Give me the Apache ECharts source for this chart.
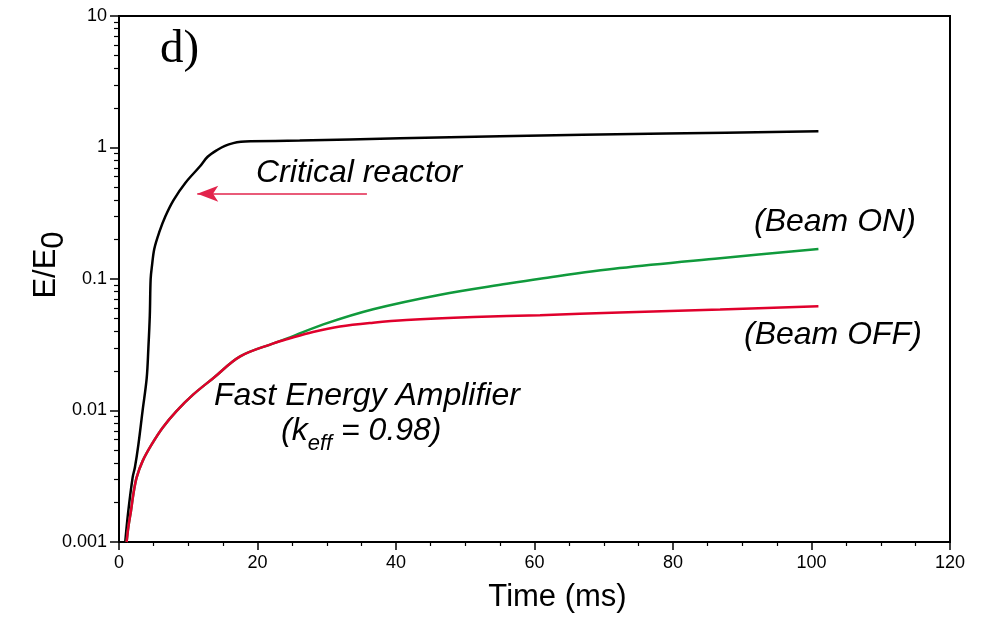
<!DOCTYPE html>
<html>
<head>
<meta charset="utf-8">
<script src="https://cdn.jsdelivr.net/npm/echarts@6/dist/echarts.min.js"></script>
<style>
  html, body { margin: 0; padding: 0; background: #fff; }
  #chart { width: 989px; height: 618px; }
</style>
</head>
<body>
<div id="chart"></div>
<script>
// values: [time in ms, E/E0]
const criticalReactor = [
  [0.9, 0.001], [1.35, 0.00173], [1.97, 0.0031], [2.3, 0.0037], [2.8, 0.0055],
  [3.4, 0.0099], [4.0, 0.0176], [4.24, 0.0297], [4.45, 0.053], [4.57, 0.1],
  [4.77, 0.127], [5.1, 0.17], [5.8, 0.226], [6.7, 0.30], [7.9, 0.40], [9.6, 0.54],
  [11.7, 0.72], [12.8, 0.85], [14.3, 0.966], [15.3, 1.03], [16.5, 1.08],
  [17.6, 1.105], [19, 1.115], [26.1, 1.13], [40.6, 1.175], [55, 1.22],
  [79, 1.276], [101, 1.33]
]
const beamOn = [
  [1.1, 0.001], [1.35, 0.0013], [1.73, 0.00173], [2.07, 0.00231], [2.55, 0.0031],
  [3.42, 0.00414], [4.7, 0.0055], [6.3, 0.0074], [8.3, 0.0099], [10.7, 0.0132],
  [13.6, 0.0176], [17.5, 0.0258], [22.3, 0.0324], [24.7, 0.036], [29.5, 0.0452],
  [36.7, 0.0589], [46.4, 0.076], [56, 0.092], [60.8, 0.1005], [72.3, 0.121],
  [86.8, 0.144], [101, 0.169]
]
const beamOff = [
  [1.1, 0.001], [1.35, 0.0013], [1.73, 0.00173], [2.07, 0.00231], [2.55, 0.0031],
  [3.42, 0.00414], [4.7, 0.0055], [6.3, 0.0074], [8.3, 0.0099], [10.7, 0.0132],
  [13.6, 0.0176], [17.5, 0.0258], [22.3, 0.0324], [24.7, 0.0354], [28, 0.0395],
  [31.9, 0.0435], [36.7, 0.0465], [41.5, 0.0487], [51.2, 0.0513], [60.8, 0.0531],
  [72.3, 0.0556], [86.8, 0.0586], [101, 0.062]
]
// arrow under "Critical reactor"
const arrowFrom = [35.8, 0.445]
const arrowTo = [11.3, 0.445]

const yTicks = [0.001, 0.01, 0.1, 1, 10]
const yMinorTicks = []
yTicks.slice(0, -1).forEach(d => {
  for (let k = 2; k <= 9; k++) yMinorTicks.push(+(d * k).toPrecision(3))
})

const font = 'Liberation Sans, Arial, Helvetica, sans-serif'
const black = '#000000'
const green = '#109a3c'
const red = '#e0002c'

const chart = echarts.init(document.getElementById('chart'))

const lineSeries = (name, data, color) => ({
  name: name,
  type: 'line',
  data: data,
  showSymbol: false,
  smooth: 0.35,
  lineStyle: { color: color, width: 2.5 }
})

const option = {
  animation: false,
  backgroundColor: '#fff',
  grid: {
    left: 119, right: 39, top: 16, bottom: 73,
    show: true, borderColor: black, borderWidth: 2
  },
  xAxis: {
    type: 'value',
    min: 0, max: 120, interval: 20,
    name: 'Time (ms)',
    nameLocation: 'middle',
    nameGap: 40,
    nameTextStyle: { fontFamily: font, fontSize: 31, color: black, padding: [0, 0, 0, 46] },
    axisLine: { lineStyle: { color: black, width: 2 } },
    axisTick: { inside: false, length: 8, lineStyle: { color: black, width: 1.5 } },
    minorTick: { show: true, splitNumber: 4, length: 4, lineStyle: { color: black, width: 1.2 } },
    axisLabel: { fontFamily: font, fontSize: 18, color: black, margin: 12 },
    splitLine: { show: false }
  },
  yAxis: [
    {
      type: 'log', logBase: 10,
      min: 0.001, max: 10,
      name: '{a|E/E}{s|0}',
      nameLocation: 'middle',
      nameGap: 49,
      nameMoveOverlap: false,
      nameRotate: 90,
      nameTextStyle: {
        padding: [0, 0, 0, 28],
        rich: {
          a: { fontFamily: font, fontSize: 31, color: black, lineHeight: 48 },
          s: { fontFamily: font, fontSize: 31, color: black, lineHeight: 31, verticalAlign: 'bottom' }
        }
      },
      axisLine: { lineStyle: { color: black, width: 2 } },
      axisTick: { inside: false, length: 9, customValues: yTicks, lineStyle: { color: black, width: 1.5 } },
      axisLabel: {
        fontFamily: font, fontSize: 18, color: black, margin: 12,
        customValues: yTicks,
        formatter: v => String(+v.toPrecision(3))
      },
      splitLine: { show: false }
    },
    {
      type: 'log', logBase: 10,
      min: 0.001, max: 10,
      position: 'left',
      axisLine: { show: false },
      axisTick: { inside: false, length: 5, customValues: yMinorTicks, lineStyle: { color: black, width: 1.2 } },
      axisLabel: { show: false },
      splitLine: { show: false }
    }
  ],
  series: [
    Object.assign(lineSeries('Critical reactor', criticalReactor, black), {
      markLine: {
        silent: true,
        symbol: ['none', 'arrow'],
        symbolSize: [12, 21],
        label: { show: false },
        lineStyle: { color: '#e2244c', width: 1.5, type: 'solid' },
        data: [[{ coord: arrowFrom }, { coord: arrowTo }]]
      }
    }),
    lineSeries('Beam ON', beamOn, green),
    lineSeries('Beam OFF', beamOff, red)
  ],
  graphic: [
    {
      type: 'text', left: 160, top: 26,
      style: { text: 'd)', font: '47px "Liberation Serif", "Times New Roman", serif', fill: black }
    },
    {
      type: 'text', left: 256, top: 157,
      style: { text: 'Critical reactor', font: 'italic 32px ' + font, fill: black }
    },
    {
      type: 'text', left: 754, top: 206,
      style: { text: '(Beam ON)', font: 'italic 32px ' + font, fill: black }
    },
    {
      type: 'text', left: 744, top: 319,
      style: { text: '(Beam OFF)', font: 'italic 32px ' + font, fill: black }
    },
    {
      type: 'text', left: 214, top: 380,
      style: { text: 'Fast Energy Amplifier', font: 'italic 32px ' + font, fill: black }
    },
    {
      type: 'text', left: 281, top: 415,
      style: {
        text: '{m|(k}{s|eff}{m| = 0.98)}',
        rich: {
          m: { fontFamily: font, fontStyle: 'italic', fontSize: 32, color: black, lineHeight: 48 },
          s: { fontFamily: font, fontStyle: 'italic', fontSize: 22, color: black, lineHeight: 22, verticalAlign: 'bottom' }
        }
      }
    }
  ]
}

chart.setOption(option)
</script>
</body>
</html>
